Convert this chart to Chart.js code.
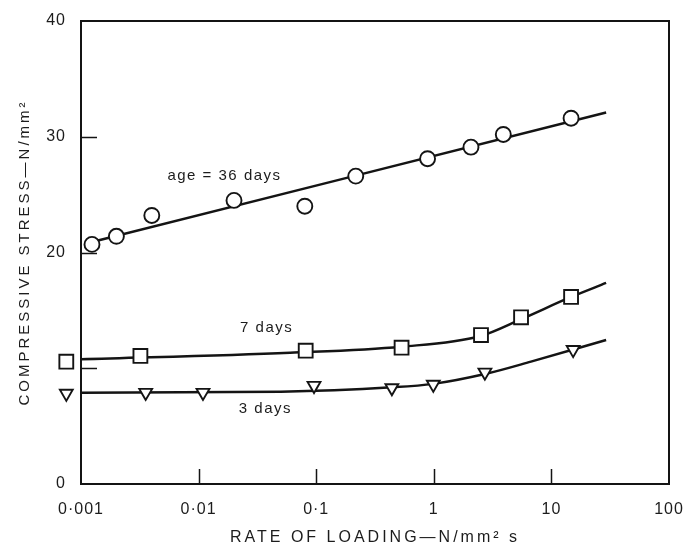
<!DOCTYPE html>
<html><head><meta charset="utf-8">
<script src="https://cdn.jsdelivr.net/npm/chart.js@4.4.1/dist/chart.umd.min.js"></script>
<style>html,body{margin:0;padding:0;background:#fff}</style>
</head><body>
<canvas id="c" width="685" height="550"></canvas>
<script>
// ---- data ----
const xTickValues = [0.001, 0.01, 0.1, 1, 10, 100];
const xTickLabels = ['0·001', '0·01', '0·1', '1', '10', '100'];
const yTickValues = [0, 10, 20, 30, 40];
const yTickLabels = ['0', '', '20', '30', '40'];

// age = 36 days (circles)
const x36 = [0.00124, 0.002, 0.004, 0.02, 0.08, 0.217, 0.885, 2.07, 3.9, 14.7];
const y36 = [20.7, 21.4, 23.2, 24.5, 24.0, 26.6, 28.1, 29.1, 30.2, 31.6];
const x36Fit = [0.00124, 29.2];
const y36Fit = [20.9, 32.1];

// 7 days (squares)
const x7 = [0.00075, 0.0032, 0.0814, 0.532, 2.52, 5.52, 14.7];
const y7 = [10.57, 11.06, 11.52, 11.78, 12.87, 14.40, 16.16];
const x7Fit = [0.001, 0.06, 0.53, 2.5, 5.5, 14.7, 29.2];
const y7Fit = [10.77, 11.34, 11.86, 12.79, 14.23, 16.16, 17.37];

// 3 days (triangles)
const x3 = [0.00075, 0.00355, 0.0109, 0.0958, 0.44, 0.99, 2.72, 15.3];
const y3 = [7.82, 7.9, 7.9, 8.5, 8.3, 8.6, 9.65, 11.6];
const x3Fit = [0.001, 0.05, 0.44, 0.99, 2.72, 6.7, 29.2];
const y3Fit = [7.89, 7.97, 8.35, 8.65, 9.5, 10.57, 12.44];

// curve labels (anchored in data coordinates)
const curveLabels = ['age = 36 days', '7 days', '3 days'];
const curveLabelX = [0.0166, 0.0379, 0.037];
const curveLabelY = [26.6, 13.48, 6.48];

const xTitle = 'RATE OF LOADING—N/mm² s';
const yTitle = 'COMPRESSIVE STRESS—N/mm²';

// ---- chart ----
const ink = '#141414';
const textInk = '#1c1c1c';
const pts = (xs, ys) => xs.map((x, i) => ({x: x, y: ys[i]}));

const curve = (xs, ys, tension) => ({
  type: 'line',
  data: pts(xs, ys), borderColor: ink, borderWidth: 2.5, pointRadius: 0,
  fill: false, tension: tension, cubicInterpolationMode: 'monotone', order: 2
});
const markers = (xs, ys, style, r, rot) => ({
  type: 'bubble', isMarker: true,
  data: pts(xs, ys), pointStyle: style, radius: r, hoverRadius: 0,
  rotation: rot, backgroundColor: '#fff', borderColor: ink,
  borderWidth: 1.9, clip: false, order: 1
});

const framePlugin = {
  id: 'frame',
  beforeDraw(chart) { chart.ctx.letterSpacing = '3px'; },
  beforeDatasetsDraw(chart) {
    const {ctx, chartArea: a, scales: {x, y}} = chart;
    ctx.save();
    ctx.letterSpacing = '0px';
    ctx.strokeStyle = ink;
    ctx.lineWidth = 2;
    ctx.strokeRect(a.left, a.top, a.right - a.left, a.bottom - a.top);
    ctx.lineWidth = 1.5;
    ctx.beginPath();
    xTickValues.forEach(v => {
      if (v > x.min && v < x.max) {
        const px = Math.round(x.getPixelForValue(v)) + 0.5;
        ctx.moveTo(px, a.bottom); ctx.lineTo(px, a.bottom - 15);
      }
    });
    yTickValues.forEach(v => {
      if (v > y.min && v < y.max) {
        const py = Math.round(y.getPixelForValue(v)) + 0.5;
        ctx.moveTo(a.left, py); ctx.lineTo(a.left + 16, py);
      }
    });
    ctx.stroke();
    ctx.restore();
  },
  afterDatasetsDraw(chart) {
    const {ctx, chartArea: a} = chart;
    // markers placed left of the axis (the library skips points outside the plot area)
    const wide = {left: -1e4, top: -1e4, right: 1e4, bottom: 1e4};
    chart.data.datasets.forEach((ds, i) => {
      if (!ds.isMarker) return;
      chart.getDatasetMeta(i).data.forEach(el => {
        if (el.x < a.left - 5) el.draw(ctx, wide);
      });
    });
    ctx.letterSpacing = '1px';
  },
  afterDraw(chart) {
    const {ctx, scales: {x, y}} = chart;
    ctx.save();
    ctx.letterSpacing = '1.5px';
    ctx.font = '15px "Liberation Sans", Arial, sans-serif';
    ctx.fillStyle = textInk;
    ctx.textAlign = 'center';
    ctx.textBaseline = 'middle';
    curveLabels.forEach((t, i) => {
      ctx.fillText(t, x.getPixelForValue(curveLabelX[i]), y.getPixelForValue(curveLabelY[i]));
    });
    ctx.restore();
  }
};

new Chart(document.getElementById('c'), {
  type: 'line',
  data: {
    datasets: [
      markers(x36, y36, 'circle', 7.5, 0),
      markers(x7, y7, 'rect', 9.8, 0),
      markers(x3, y3, 'triangle', 7.4, 180),
      curve(x36Fit, y36Fit, 0),
      curve(x7Fit, y7Fit, 0.4),
      curve(x3Fit, y3Fit, 0.4)
    ]
  },
  options: {
    responsive: false,
    animation: false,
    devicePixelRatio: 1,
    layout: {autoPadding: false, padding: {top: 21, right: 16, left: 0, bottom: 0}},
    plugins: {legend: {display: false}, tooltip: {enabled: false}},
    scales: {
      x: {
        type: 'logarithmic', min: 0.001, max: 100,
        afterBuildTicks: s => { s.ticks = xTickValues.map(v => ({value: v})); },
        afterFit: s => { s.height = 66; s.paddingLeft = 0; s.paddingRight = 0; },
        grid: {display: false, drawTicks: false},
        border: {display: false},
        ticks: {
          z: 1, autoSkip: false, maxRotation: 0, padding: 16, color: textInk,
          font: {family: '"Liberation Sans", Arial, sans-serif', size: 16},
          callback: v => { const i = xTickValues.findIndex(t => Math.abs(t - v) < t * 1e-6); return i >= 0 ? xTickLabels[i] : ''; }
        },
        title: {
          display: true, text: xTitle, color: textInk,
          font: {family: '"Liberation Sans", Arial, sans-serif', size: 16},
          padding: {top: 0, bottom: 3}
        }
      },
      y: {
        type: 'linear', min: 0, max: 40,
        afterBuildTicks: s => { s.ticks = yTickValues.map(v => ({value: v})); },
        afterFit: s => { s.width = 81; s.paddingTop = 0; s.paddingBottom = 0; },
        grid: {display: false, drawTicks: false},
        border: {display: false},
        ticks: {
          z: 1, padding: 15, color: textInk,
          font: {family: '"Liberation Sans", Arial, sans-serif', size: 16},
          callback: v => { const i = yTickValues.indexOf(v); return i >= 0 ? yTickLabels[i] : ''; }
        },
        title: {
          display: true, text: yTitle, color: textInk,
          font: {family: '"Liberation Sans", Arial, sans-serif', size: 15},
          padding: {top: 16, bottom: 0}
        }
      }
    }
  },
  plugins: [framePlugin]
});
</script>
</body></html>
